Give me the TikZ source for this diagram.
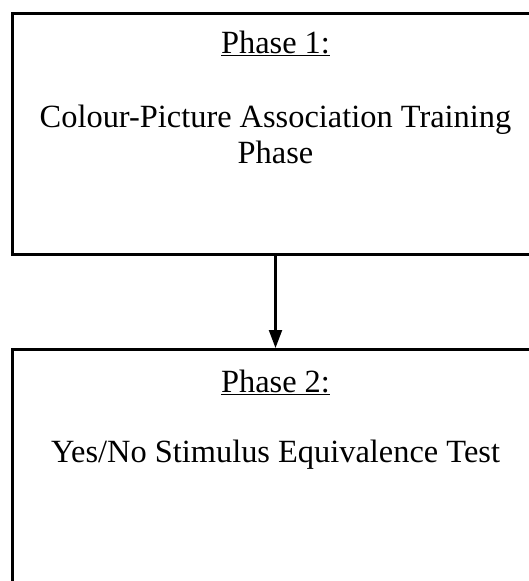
\documentclass[tikz,border=0pt]{standalone}
\usepackage{fontspec}
\setmainfont{Liberation Serif}
\usetikzlibrary{arrows.meta,positioning}
\tikzset{
  phaselabel/.style={font=\fontsize{32.4}{36}\selectfont, text=black, align=center, anchor=base},
  phasebox/.style={draw=black, line width=2.6pt, fill=white},
  phasearrow/.style={-{Triangle[length=18pt,width=13pt]}, line width=2.2pt, draw=black}
}
\begin{document}
\begin{tikzpicture}[x=1pt, y=1pt]
\useasboundingbox (0,0) rectangle (529,-581);
\clip (0,0) rectangle (529,-581);
\node[phasebox, minimum width=560pt, minimum height=241pt, anchor=north west] (phaseone) at (11,-12) {};
\node[phasebox, minimum width=560pt, minimum height=260pt, anchor=north west] (phasetwo) at (11,-348) {};
\node[phaselabel] (onetitle) at (275.5,-53) {\underline{Phase 1:}};
\node[phaselabel] (onetext) at (275.5,-163) {Colour-Picture Association Training\\Phase};
\node[phaselabel] (twotitle) at (275.5,-392) {\underline{Phase 2:}};
\node[phaselabel] (twotext) at (275.5,-462) {Yes/No Stimulus Equivalence Test};
\draw[phasearrow] (onetitle |- phaseone.south) -- (onetitle |- phasetwo.north);
\end{tikzpicture}
\end{document}
